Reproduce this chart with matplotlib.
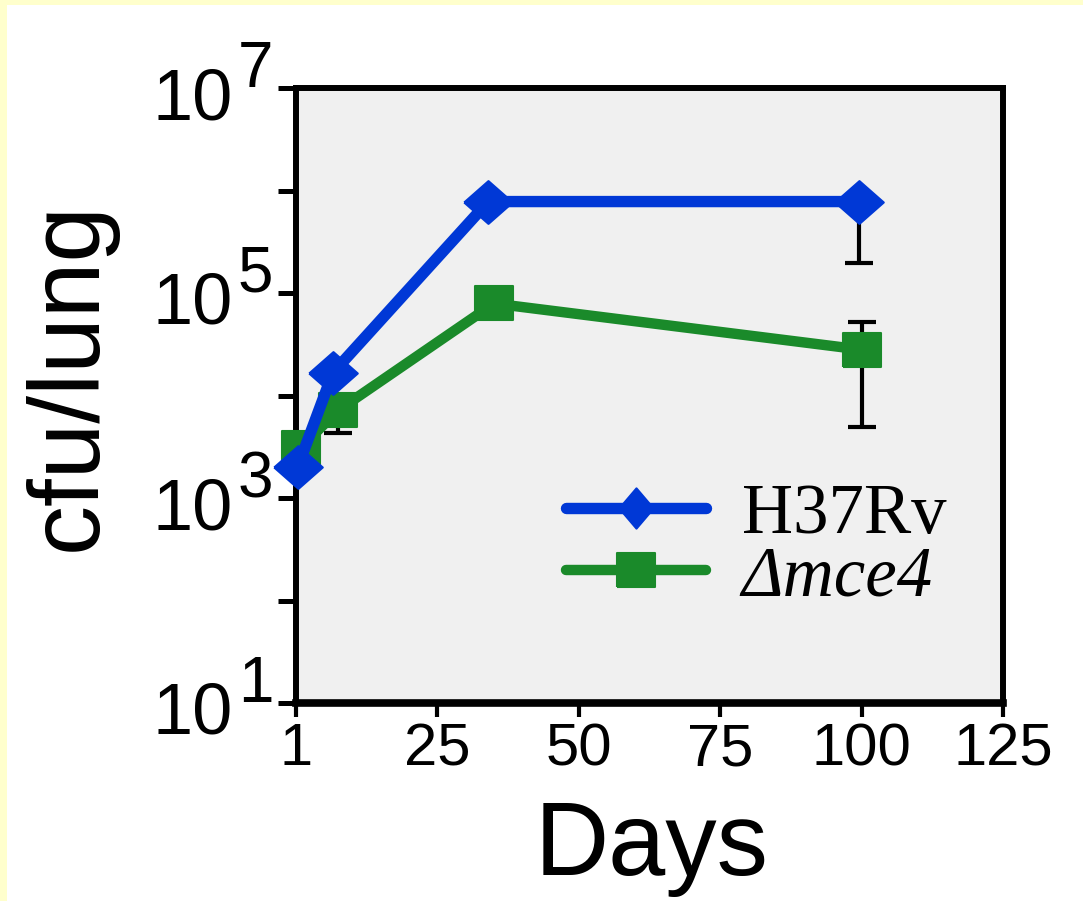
import matplotlib
matplotlib.use("Agg")
import matplotlib.pyplot as plt
from matplotlib.lines import Line2D
from matplotlib.markers import MarkerStyle
from matplotlib.path import Path
from matplotlib.patches import Rectangle
import numpy as np

# ---- data ----
days_h37rv = [0.3, 6.5, 34, 99.5]
cfu_h37rv = [2.0e3, 1.66e4, 7.8e5, 7.8e5]
err_idx_h37rv = [3]
err_lo_h37rv = [1.95e5]
err_hi_h37rv = [7.8e5]

days_mce4 = [0.8, 7.5, 35, 100]
cfu_mce4 = [3.1e3, 7.2e3, 7.9e4, 2.8e4]
err_idx_mce4 = [1, 3]
err_lo_mce4 = [4.3e3, 4.97e3]
err_hi_mce4 = [7.2e3, 5.25e4]

x_ticks = [0, 25, 50, 75, 100, 125]
x_ticklabels = ["1", "25", "50", "75", "100", "125"]
y_ticks = [1e1, 1e2, 1e3, 1e4, 1e5, 1e6, 1e7]
y_label_ticks = [1e1, 1e3, 1e5, 1e7]
y_label_exps = ["1", "3", "5", "7"]
labels = ["H37Rv", "Δmce4"]

BLUE = "#0038D6"
GREEN = "#1A8A2A"

plt.rcParams["font.family"] = ["Liberation Sans", "DejaVu Sans"]

W, H = 1083, 901
fig = plt.figure(figsize=(W / 100, H / 100), dpi=100)
fig.patch.set_facecolor("white")
# yellow border strips (top and left)
fig.add_artist(Rectangle((0, 1 - 5 / H), 1, 5 / H, transform=fig.transFigure,
                         color="#FFFFCC", lw=0, zorder=-10))
fig.add_artist(Rectangle((0, 0), 7 / W, 1, transform=fig.transFigure,
                         color="#FFFFCC", lw=0, zorder=-10))

ax_l, ax_r, ax_t, ax_b = 296, 1003, 88, 703
ax = fig.add_axes([ax_l / W, 1 - ax_b / H, (ax_r - ax_l) / W, (ax_b - ax_t) / H])
ax.set_facecolor("#F0F0F0")

diamond = MarkerStyle(Path([(-1, 0), (0, 0.88), (1, 0), (0, -0.88), (-1, 0)]), joinstyle="round")
diamond_leg = MarkerStyle(Path([(-0.85, 0), (0, 1), (0.85, 0), (0, -1), (-0.85, 0)]), joinstyle="round")
square = MarkerStyle(Path([(-1, -0.89), (1, -0.89), (1, 0.89), (-1, 0.89), (-1, -0.89)]), joinstyle="round")

# error bars (behind)
def draw_err(days, vals, idx, lo, hi):
    xs = [days[i] for i in idx]
    ys = [vals[i] for i in idx]
    yerr = [[v - l for v, l in zip(ys, lo)], [h - v for v, h in zip(ys, hi)]]
    ax.errorbar(xs, ys, yerr=yerr, fmt="none", ecolor="black", elinewidth=3,
                capsize=10, capthick=3, zorder=2)

draw_err(days_h37rv, cfu_h37rv, err_idx_h37rv, err_lo_h37rv, err_hi_h37rv)
draw_err(days_mce4, cfu_mce4, err_idx_mce4, err_lo_mce4, err_hi_mce4)

ax.plot(days_mce4, cfu_mce4, color=GREEN, lw=7.5, marker=square, ms=27,
        mec=GREEN, mew=1.5, solid_capstyle="round", zorder=3, clip_on=False)
ax.plot(days_h37rv, cfu_h37rv, color=BLUE, lw=8.2, marker=diamond, ms=35,
        mec=BLUE, mew=1.5, solid_capstyle="round", zorder=4, clip_on=False)

ax.set_yscale("log")
ax.set_ylim(1e1, 1e7)
ax.set_xlim(0, 125)
ax.set_yticks(y_ticks)
ax.set_yticklabels([""] * len(y_ticks))
ax.yaxis.set_minor_locator(matplotlib.ticker.NullLocator())
ax.set_xticks(x_ticks)
ax.set_xticklabels(x_ticklabels)

# y tick labels as "10" + large superscript
for yv, ex in zip(y_label_ticks, y_label_exps):
    ax.annotate("10", xy=(0, yv), xycoords=("axes fraction", "data"),
                xytext=(-63, -31), textcoords="offset pixels",
                ha="right", va="baseline", fontsize=52, annotation_clip=False)
    ax.annotate(ex, xy=(0, yv), xycoords=("axes fraction", "data"),
                xytext=(-58, 1), textcoords="offset pixels",
                ha="left", va="baseline", fontsize=46, annotation_clip=False)

for side in ["left", "right", "top"]:
    ax.spines[side].set_linewidth(4.3)
ax.spines["bottom"].set_linewidth(5.5)
ax.tick_params(axis="y", direction="out", length=13, width=3.6)
ax.tick_params(axis="x", direction="out", length=10, width=3, labelsize=43, pad=4)

ax.set_ylabel("cfu/lung", fontsize=72)
ax.yaxis.set_label_coords((117 - ax_l) / (ax_r - ax_l), (ax_b - 376) / (ax_b - ax_t))
ax.set_xlabel("Days", fontsize=74)
ax.xaxis.set_label_coords((652 - ax_l) / (ax_r - ax_l), (ax_b - 800) / (ax_b - ax_t))

handles = [
    Line2D([], [], color=BLUE, lw=8.2, marker=diamond_leg, ms=29, mec=BLUE, mew=1.5,
           solid_capstyle="round"),
    Line2D([], [], color=GREEN, lw=7.5, marker=square, ms=27, mec=GREEN, mew=1.5,
           solid_capstyle="round"),
]
leg = ax.legend(handles, labels, loc="upper left",
                bbox_to_anchor=((566 - ax_l) / (ax_r - ax_l), (ax_b - 483) / (ax_b - ax_t)),
                frameon=False, prop={"family": "Liberation Serif", "size": 51},
                handlelength=1.98, handletextpad=0.5, labelspacing=-0.04,
                borderaxespad=0, borderpad=0)
leg.get_texts()[1].set_style("italic")

fig.savefig("out.png", dpi=100)
